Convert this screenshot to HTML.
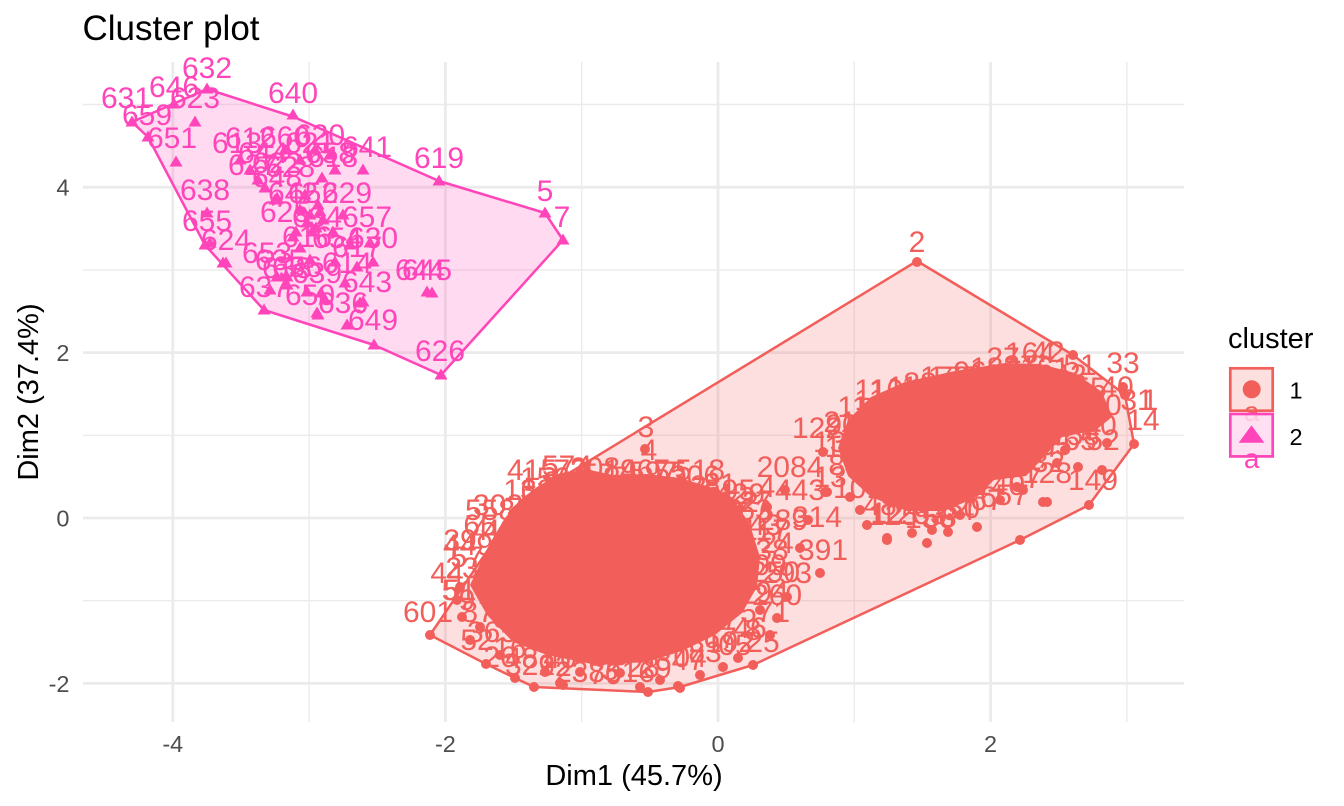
<!DOCTYPE html>
<html><head><meta charset="utf-8">
<style>
html,body{margin:0;padding:0;background:#fff;}
svg{display:block}
text{font-family:"Liberation Sans",Arial,Helvetica,sans-serif;}
.a{fill:#F25E5A;font-size:30px;text-anchor:middle}
.b{fill:#FF45B9;font-size:30px;text-anchor:middle}
.tk{fill:#4D4D4D;font-size:23.5px}
</style></head><body>
<svg width="1344" height="806" viewBox="0 0 1344 806" xmlns="http://www.w3.org/2000/svg">
<defs>
<path id="t" d="M0,-6.5L6.5,4.5H-6.5Z"/>
</defs>
<rect width="1344" height="806" fill="#fff"/>
<!-- minor grid -->
<g stroke="#EBEBEB" stroke-width="1.4">
<line x1="309.1" y1="62" x2="309.1" y2="722"/>
<line x1="581.7" y1="62" x2="581.7" y2="722"/>
<line x1="854.3" y1="62" x2="854.3" y2="722"/>
<line x1="1126.9" y1="62" x2="1126.9" y2="722"/>
<line x1="83" y1="104.5" x2="1184" y2="104.5"/>
<line x1="83" y1="269.9" x2="1184" y2="269.9"/>
<line x1="83" y1="435.3" x2="1184" y2="435.3"/>
<line x1="83" y1="600.7" x2="1184" y2="600.7"/>
</g>
<!-- major grid -->
<g stroke="#EBEBEB" stroke-width="2.8">
<line x1="172.8" y1="62" x2="172.8" y2="722"/>
<line x1="445.4" y1="62" x2="445.4" y2="722"/>
<line x1="718" y1="62" x2="718" y2="722"/>
<line x1="990.6" y1="62" x2="990.6" y2="722"/>
<line x1="83" y1="187.2" x2="1184" y2="187.2"/>
<line x1="83" y1="352.6" x2="1184" y2="352.6"/>
<line x1="83" y1="518" x2="1184" y2="518"/>
<line x1="83" y1="683.4" x2="1184" y2="683.4"/>
</g>

<!-- hull fills -->
<polygon points="430,635 486,664 515,678 534,687 648,692 680,687 753,665 1020,540 1089,505 1134,444 1125,395 1073,355 917,261 520,503" fill="#F25E5A" fill-opacity="0.2"/>
<polygon points="132,122 207,89 294,117 439,181 545,213 563,240 441,375 374,345 264,310 205,245 148,137" fill="#FF45B9" fill-opacity="0.2"/>

<!-- cluster 1 dense masses -->
<path d="M490,543 L505,518 520,500 537,487 560,473 590,470 613,475 647,474 680,478 713,488 733,498 750,525 760,557 757,587 742,613 715,635 682,651 647,662 597,665 547,655 513,642 487,615 470,585 Z" fill="#F25E5A"/>
<path d="M848,420 L871,397 905,382 955,371 1005,363 1040,364 1075,373 1102,392 1112,417 1096,430 1062,437 1044,457 1026,476 994,480 977,497 944,511 907,511 871,497 848,476 838,448 Z" fill="#F25E5A"/>

<!-- cluster 1 dots -->
<g fill="#F25E5A">
<circle cx="430" cy="635" r="5"/><circle cx="462" cy="617" r="5"/><circle cx="480" cy="627" r="5"/>
<circle cx="486" cy="664" r="5"/><circle cx="515" cy="678" r="5"/><circle cx="534" cy="687" r="5"/>
<circle cx="560" cy="683" r="5"/><circle cx="563" cy="685" r="5"/><circle cx="580" cy="672" r="5"/>
<circle cx="600" cy="662" r="5"/><circle cx="620" cy="673" r="5"/><circle cx="640" cy="687" r="5"/>
<circle cx="648" cy="692" r="5"/><circle cx="678" cy="686" r="5"/><circle cx="680" cy="688" r="5"/>
<circle cx="723" cy="667" r="5"/><circle cx="738" cy="658" r="5"/><circle cx="753" cy="665" r="5"/>
<circle cx="777" cy="618" r="5"/><circle cx="787" cy="597" r="5"/><circle cx="767" cy="507" r="5"/>
<circle cx="785" cy="490" r="5"/><circle cx="457" cy="600" r="5"/><circle cx="460" cy="587" r="5"/>
<circle cx="645" cy="449" r="5"/><circle cx="917" cy="262" r="5"/><circle cx="820" cy="573" r="5"/>
<circle cx="827" cy="492" r="5"/><circle cx="823" cy="452" r="5"/><circle cx="825" cy="492" r="5"/>
<circle cx="850" cy="497" r="5"/><circle cx="867" cy="525" r="5"/><circle cx="887" cy="540" r="5"/>
<circle cx="912" cy="533" r="5"/><circle cx="932" cy="530" r="5"/><circle cx="948" cy="532" r="5"/>
<circle cx="977" cy="527" r="5"/><circle cx="1017" cy="487" r="5"/><circle cx="1023" cy="490" r="5"/>
<circle cx="1043" cy="502" r="5"/><circle cx="1047" cy="502" r="5"/><circle cx="1057" cy="463" r="5"/>
<circle cx="1078" cy="467" r="5"/><circle cx="1102" cy="470" r="5"/><circle cx="1089" cy="505" r="5"/>
<circle cx="1134" cy="444" r="5"/><circle cx="1123" cy="387" r="5"/><circle cx="1107" cy="443" r="5"/>
<circle cx="887" cy="538" r="5"/><circle cx="927" cy="543" r="5"/><circle cx="1020" cy="540" r="5"/>
<circle cx="1073" cy="355" r="5"/><circle cx="1125" cy="395" r="5"/><circle cx="808" cy="520" r="5"/>
<circle cx="800" cy="548" r="5"/><circle cx="770" cy="635" r="5"/><circle cx="760" cy="610" r="5"/>
<circle cx="500" cy="655" r="5"/><circle cx="470" cy="640" r="5"/><circle cx="545" cy="672" r="5"/>
<circle cx="700" cy="675" r="5"/><circle cx="660" cy="680" r="5"/><circle cx="860" cy="510" r="5"/>
<circle cx="960" cy="515" r="5"/><circle cx="1000" cy="500" r="5"/><circle cx="1065" cy="450" r="5"/>
</g>

<!-- cluster 1 labels -->
<g class="a">
<text x="532" y="480">415</text><text x="567" y="476">574</text><text x="646" y="437">3</text>
<text x="649" y="460">4</text><text x="653" y="482">597</text><text x="700" y="480">518</text>
<text x="620" y="487">7</text><text x="598" y="484">57</text><text x="730" y="500">595</text>
<text x="767" y="497">4</text><text x="742" y="512">52</text><text x="755" y="512">27</text>
<text x="790" y="477">2084</text><text x="800" y="500">443</text><text x="783" y="530">289</text>
<text x="817" y="527">314</text><text x="823" y="560">391</text><text x="787" y="583">293</text>
<text x="777" y="605">260</text><text x="777" y="553">24</text><text x="490" y="520">558</text>
<text x="537" y="500">62</text><text x="460" y="550">39</text><text x="480" y="540">4</text>
<text x="467" y="567">57</text><text x="447" y="583">44</text><text x="450" y="600">5</text>
<text x="428" y="622">601</text><text x="467" y="610">9</text><text x="477" y="650">52</text>
<text x="500" y="667">26</text><text x="530" y="675">322</text><text x="643" y="677">28</text>
<text x="763" y="652">25</text><text x="753" y="640">8</text><text x="730" y="630">7</text>
<text x="735" y="655">05</text><text x="690" y="667">04</text><text x="580" y="662">2</text>
<text x="620" y="665">3</text><text x="770" y="575">09</text><text x="765" y="535">43</text>
<text x="500" y="540">48</text><text x="488" y="595">61</text><text x="510" y="628">35</text>
<text x="560" y="492">91</text><text x="690" y="496">12</text><text x="745" y="590">61</text>
<text x="720" y="648">67</text><text x="560" y="668">40</text><text x="610" y="680">3</text>
<!-- ring around blob 1 -->
<text x="520" y="500">13</text><text x="545" y="488">156</text><text x="570" y="480">72</text>
<text x="595" y="478">208</text><text x="620" y="480">19</text><text x="645" y="480">467</text>
<text x="670" y="482">55</text><text x="695" y="486">306</text><text x="720" y="494">81</text>
<text x="740" y="504">429</text><text x="755" y="520">63</text><text x="765" y="540">117</text>
<text x="772" y="560">38</text><text x="775" y="582">250</text><text x="772" y="602">94</text>
<text x="765" y="622">571</text><text x="750" y="638">46</text><text x="730" y="652">192</text>
<text x="705" y="662">83</text><text x="680" y="670">347</text><text x="655" y="678">29</text>
<text x="630" y="682">516</text><text x="605" y="684">70</text><text x="580" y="682">238</text>
<text x="555" y="676">92</text><text x="530" y="668">481</text><text x="510" y="658">16</text>
<text x="492" y="642">365</text><text x="478" y="622">87</text><text x="468" y="600">510</text>
<text x="462" y="578">23</text><text x="468" y="555">449</text><text x="480" y="535">65</text>
<text x="498" y="515">302</text>
<!-- blob 2 -->
<text x="917" y="252">2</text><text x="1003" y="368">27</text><text x="1030" y="363">164</text>
<text x="1048" y="362">42</text><text x="1080" y="375">51</text><text x="1123" y="373">33</text>
<text x="953" y="387">173</text><text x="870" y="400">11</text><text x="910" y="397">111</text>
<text x="853" y="417">11</text><text x="817" y="438">122</text><text x="840" y="432">21</text>
<text x="833" y="457">1</text><text x="1117" y="397">40</text><text x="1137" y="410">31</text>
<text x="1150" y="410">1</text><text x="1143" y="430">14</text><text x="1103" y="450">52</text>
<text x="1080" y="450">65</text><text x="1047" y="483">128</text><text x="1093" y="490">149</text>
<text x="987" y="510">67</text><text x="940" y="527">53</text><text x="887" y="523">12</text>
<text x="830" y="487">13</text><text x="893" y="525">125</text><text x="930" y="528">156</text>
<text x="958" y="520">64</text><text x="1012" y="505">57</text><text x="860" y="470">18</text>
<text x="985" y="385">19</text><text x="1090" y="420">30</text><text x="1070" y="395">56</text>
<!-- ring around blob 2 -->
<text x="870" y="410">11</text><text x="895" y="400">104</text><text x="920" y="393">88</text>
<text x="945" y="387">172</text><text x="970" y="382">96</text><text x="995" y="378">183</text>
<text x="1020" y="376">27</text><text x="1045" y="378">161</text><text x="1070" y="385">42</text>
<text x="1090" y="398">55</text><text x="1105" y="415">40</text><text x="1100" y="435">20</text>
<text x="1075" y="445">158</text><text x="1055" y="455">65</text><text x="1040" y="472">132</text>
<text x="1025" y="488">67</text><text x="1000" y="495">140</text><text x="980" y="507">76</text>
<text x="955" y="518">150</text><text x="930" y="524">93</text><text x="905" y="524">125</text>
<text x="880" y="515">48</text><text x="858" y="498">101</text><text x="845" y="475">84</text>
<text x="838" y="452">136</text><text x="842" y="435">90</text>
</g>

<!-- cluster 2 triangles -->
<g fill="#FF45B9">
<use href="#t" x="132" y="122"/><use href="#t" x="207" y="89"/><use href="#t" x="174" y="104"/>
<use href="#t" x="195" y="122"/><use href="#t" x="148" y="137"/><use href="#t" x="176" y="162"/>
<use href="#t" x="293" y="115"/><use href="#t" x="439" y="181"/><use href="#t" x="545" y="213"/>
<use href="#t" x="563" y="240"/><use href="#t" x="441" y="375"/><use href="#t" x="374" y="345"/>
<use href="#t" x="264" y="310"/><use href="#t" x="205" y="245"/><use href="#t" x="207" y="213"/>
<use href="#t" x="226" y="263"/><use href="#t" x="258" y="180"/><use href="#t" x="265" y="188"/>
<use href="#t" x="277" y="198"/><use href="#t" x="275" y="200"/><use href="#t" x="322" y="178"/>
<use href="#t" x="335" y="170"/><use href="#t" x="363" y="170"/><use href="#t" x="310" y="215"/>
<use href="#t" x="323" y="220"/><use href="#t" x="307" y="223"/><use href="#t" x="343" y="215"/>
<use href="#t" x="300" y="210"/><use href="#t" x="370" y="243"/><use href="#t" x="293" y="237"/>
<use href="#t" x="357" y="267"/><use href="#t" x="373" y="262"/><use href="#t" x="310" y="260"/>
<use href="#t" x="287" y="277"/><use href="#t" x="277" y="277"/><use href="#t" x="287" y="285"/>
<use href="#t" x="307" y="292"/><use href="#t" x="325" y="300"/><use href="#t" x="345" y="283"/>
<use href="#t" x="363" y="302"/><use href="#t" x="317" y="313"/><use href="#t" x="347" y="325"/>
<use href="#t" x="427" y="292"/><use href="#t" x="432" y="293"/><use href="#t" x="223" y="263"/>
<use href="#t" x="210" y="243"/><use href="#t" x="318" y="315"/><use href="#t" x="360" y="303"/>
<use href="#t" x="321" y="293"/><use href="#t" x="240" y="160"/><use href="#t" x="250" y="170"/>
<use href="#t" x="300" y="160"/><use href="#t" x="315" y="150"/><use href="#t" x="285" y="150"/>
<use href="#t" x="330" y="155"/><use href="#t" x="305" y="195"/><use href="#t" x="318" y="205"/>
<use href="#t" x="296" y="232"/><use href="#t" x="312" y="232"/><use href="#t" x="333" y="232"/>
<use href="#t" x="350" y="245"/><use href="#t" x="300" y="248"/><use href="#t" x="335" y="262"/>
<use href="#t" x="270" y="290"/><use href="#t" x="316" y="228"/><use href="#t" x="320" y="212"/>
</g>

<!-- cluster 2 labels -->
<g class="b">
<text x="207" y="78">632</text><text x="174" y="97">646</text><text x="126" y="108">631</text>
<text x="195" y="108">623</text><text x="147" y="125">659</text><text x="293" y="103">640</text>
<text x="172" y="148">651</text><text x="439" y="168">619</text><text x="545" y="201">5</text>
<text x="562" y="227">7</text><text x="205" y="200">638</text><text x="207" y="231">655</text>
<text x="226" y="250">624</text><text x="264" y="297">637</text><text x="373" y="330">649</text>
<text x="440" y="361">626</text><text x="367" y="292">643</text><text x="343" y="313">636</text>
<text x="427" y="280">645</text><text x="420" y="280">644</text><text x="237" y="153">613</text>
<text x="285" y="147">660</text><text x="320" y="145">620</text><text x="367" y="157">641</text>
<text x="310" y="153">621</text><text x="333" y="167">618</text><text x="250" y="148">612</text>
<text x="263" y="163">644</text><text x="253" y="175">627</text><text x="277" y="173">622</text>
<text x="290" y="177">628</text><text x="277" y="187">648</text><text x="293" y="203">642</text>
<text x="313" y="203">652</text><text x="347" y="203">629</text><text x="285" y="222">625</text>
<text x="317" y="227">634</text><text x="367" y="227">657</text><text x="307" y="247">616</text>
<text x="337" y="248">654</text><text x="373" y="248">630</text><text x="357" y="257">617</text>
<text x="267" y="263">653</text><text x="347" y="273">614</text><text x="297" y="277">656</text>
<text x="287" y="278">633</text><text x="317" y="283">639</text><text x="310" y="305">650</text>
<text x="280" y="270">635</text><text x="330" y="163">658</text>
</g>

<!-- hull strokes -->
<polygon points="430,635 486,664 515,678 534,687 648,692 680,687 753,665 1020,540 1089,505 1134,444 1125,395 1073,355 917,261 520,503" fill="none" stroke="#F25E5A" stroke-width="2.5" stroke-linejoin="round"/>
<polygon points="132,122 207,89 294,117 439,181 545,213 563,240 441,375 374,345 264,310 205,245 148,137" fill="none" stroke="#FF45B9" stroke-width="2.5" stroke-linejoin="round"/>

<!-- axis tick labels -->
<g class="tk" text-anchor="middle">
<text x="172.8" y="752">-4</text><text x="445.4" y="752">-2</text>
<text x="718" y="752">0</text><text x="990.6" y="752">2</text>
</g>
<g class="tk" text-anchor="end">
<text x="69.5" y="195.7">4</text><text x="69.5" y="361.1">2</text>
<text x="69.5" y="526.5">0</text><text x="69.5" y="691.9">-2</text>
</g>

<!-- axis titles -->
<text x="634" y="785" font-size="29" text-anchor="middle" fill="#000">Dim1 (45.7%)</text>
<text transform="translate(38,392) rotate(-90)" font-size="29" text-anchor="middle" fill="#000">Dim2 (37.4%)</text>

<!-- title -->
<text x="82.5" y="40" font-size="35" fill="#000">Cluster plot</text>

<!-- legend -->
<text x="1228" y="348" font-size="29" fill="#000">cluster</text>
<rect x="1230.3" y="368.3" width="42.4" height="42.4" fill="#FCDFDE" stroke="#F25E5A" stroke-width="2.7"/>
<circle cx="1251.7" cy="389.3" r="9" fill="#F25E5A"/>
<text x="1251.7" y="421" font-size="28" text-anchor="middle" fill="#F25E5A">a</text>
<rect x="1230.3" y="414" width="42.4" height="42.4" fill="#FFDAF1" fill-opacity="0.85" stroke="#FF45B9" stroke-width="2.7"/>
<path d="M1251.5,425.3L1264.3,442.7H1238.7Z" fill="#FF45B9"/>
<text x="1251.7" y="468" font-size="28" text-anchor="middle" fill="#FF45B9">a</text>
<text x="1289.5" y="398.5" class="tk" style="fill:#000">1</text>
<text x="1289.5" y="445" class="tk" style="fill:#000">2</text>
</svg>
</body></html>
